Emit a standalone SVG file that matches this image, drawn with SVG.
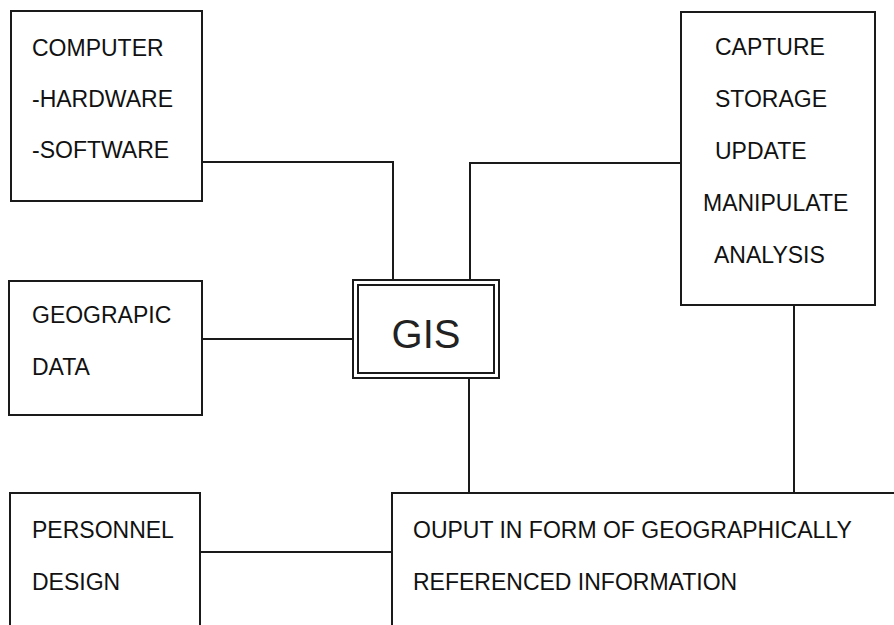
<svg xmlns="http://www.w3.org/2000/svg" width="894" height="625" viewBox="0 0 894 625">
<style>
.box{fill:#fff;stroke:#1a1a1a;stroke-width:2}
.conn{fill:none;stroke:#1a1a1a;stroke-width:2}
.t{font-family:"Liberation Sans",Arial,sans-serif;font-size:23px;fill:#111}
.big{font-family:"Liberation Sans",Arial,sans-serif;font-size:40px;fill:#222}
</style>
<rect width="894" height="625" fill="#fff"/>
<g id="connectors">
<path class="conn" d="M202,162 H393 V280"/>
<path class="conn" d="M681,163 H470 V280"/>
<path class="conn" d="M202,339 H353"/>
<path class="conn" d="M469,378 V493"/>
<path class="conn" d="M794,305 V493"/>
<path class="conn" d="M200,552 H392"/>
</g>
<g id="computer">
<rect class="box" x="11" y="11" width="191" height="190"/>
<text class="t" x="32" y="56">COMPUTER</text>
<text class="t" x="32" y="107">-HARDWARE</text>
<text class="t" x="32" y="158">-SOFTWARE</text>
</g>
<g id="functions">
<rect class="box" x="681" y="12" width="194" height="293"/>
<text class="t" x="715" y="55">CAPTURE</text>
<text class="t" x="715" y="107">STORAGE</text>
<text class="t" x="715" y="159">UPDATE</text>
<text class="t" x="703" y="211">MANIPULATE</text>
<text class="t" x="714" y="263">ANALYSIS</text>
</g>
<g id="geodata">
<rect class="box" x="9" y="281" width="193" height="134"/>
<text class="t" x="32" y="323">GEOGRAPIC</text>
<text class="t" x="32" y="375">DATA</text>
</g>
<g id="gis">
<rect class="box" x="353" y="280" width="146" height="98"/>
<rect class="box" x="358" y="285" width="136" height="88"/>
<text class="big" x="426" y="348" text-anchor="middle">GIS</text>
</g>
<g id="personnel">
<rect class="box" x="10" y="493" width="190" height="150"/>
<text class="t" x="32" y="538">PERSONNEL</text>
<text class="t" x="32" y="590">DESIGN</text>
</g>
<g id="output">
<rect class="box" x="392" y="493" width="520" height="150"/>
<text class="t" x="413" y="538">OUPUT IN FORM OF GEOGRAPHICALLY</text>
<text class="t" x="413" y="590">REFERENCED INFORMATION</text>
</g>
</svg>
